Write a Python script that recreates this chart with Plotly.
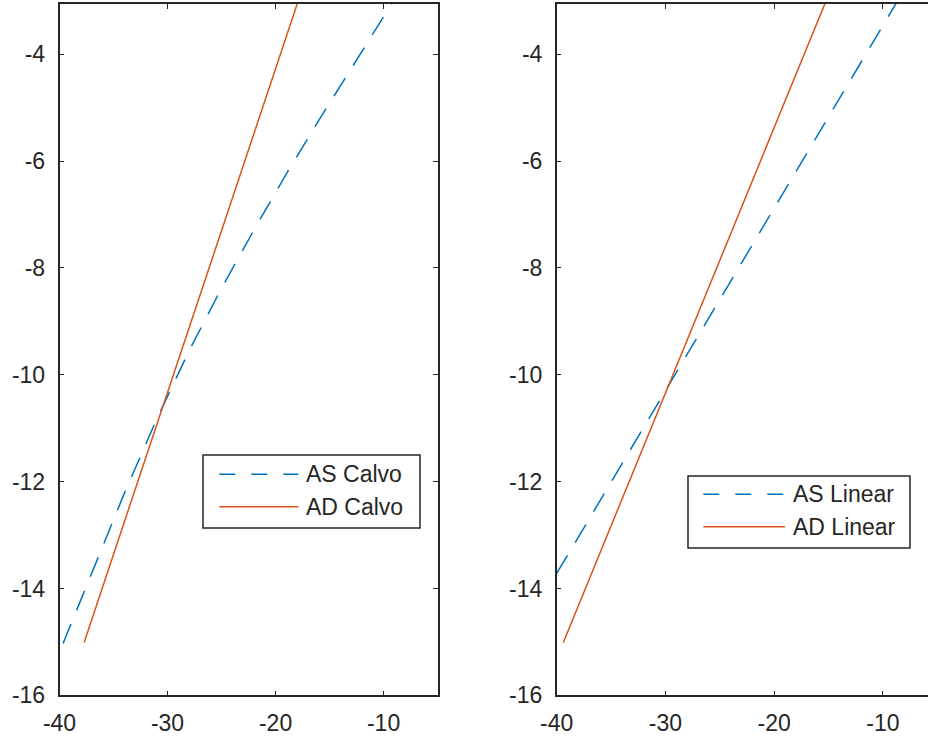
import plotly.graph_objects as go

W, H = 928, 740

# ---- data -------------------------------------------------------------
calvo_names = ["AS Calvo", "AD Calvo"]
calvo_as_x = [-39.67, -37.0, -34.0, -31.0, -28.0, -25.0, -22.0, -19.0, -16.0, -13.0, -9.26]
calvo_as_y = [-15.03, -13.70, -12.22, -10.83, -9.55, -8.38, -7.29, -6.24, -5.24, -4.27, -3.06]
calvo_ad_x = [-37.72, -30.0, -25.0, -18.0]
calvo_ad_y = [-15.01, -10.33, -7.30, -3.06]

linear_names = ["AS Linear", "AD Linear"]
linear_as_x = [-40.0, -30.0, -20.0, -8.8]
linear_as_y = [-13.72, -10.30, -6.88, -3.05]
linear_ad_x = [-39.39, -30.0, -20.0, -15.35]
linear_ad_y = [-15.01, -10.34, -5.37, -3.06]

x_ticks = [-40, -30, -20, -10]
x_tick_labels = ["-40", "-30", "-20", "-10"]
y_ticks = [-16, -14, -12, -10, -8, -6, -4]
y_tick_labels = ["-16", "-14", "-12", "-10", "-8", "-6", "-4"]

# ---- style ------------------------------------------------------------
BLUE = "#0072BD"
ORANGE = "#D95319"
AXIS = "#262626"
FONT = dict(family="Liberation Sans, Arial, sans-serif", size=23, color=AXIS)
DASH = "21px,15px"
LW = 1.5


def px(x):
    return x / W


def py(y):
    return 1 - y / H


fig = go.Figure()

fig.add_trace(go.Scatter(x=calvo_as_x, y=calvo_as_y, mode="lines", name=calvo_names[0],
                         line=dict(color=BLUE, width=LW, dash=DASH), xaxis="x", yaxis="y"))
fig.add_trace(go.Scatter(x=calvo_ad_x, y=calvo_ad_y, mode="lines", name=calvo_names[1],
                         line=dict(color=ORANGE, width=LW), xaxis="x", yaxis="y"))
fig.add_trace(go.Scatter(x=linear_as_x, y=linear_as_y, mode="lines", name=linear_names[0],
                         line=dict(color=BLUE, width=LW, dash=DASH), xaxis="x2", yaxis="y2"))
fig.add_trace(go.Scatter(x=linear_ad_x, y=linear_ad_y, mode="lines", name=linear_names[1],
                         line=dict(color=ORANGE, width=LW), xaxis="x2", yaxis="y2"))

common_axis = dict(showgrid=False, zeroline=False, showline=True, linecolor=AXIS,
                   linewidth=LW, ticks="inside", ticklen=5, tickwidth=1.2,
                   tickcolor=AXIS, tickfont=FONT, automargin=False)

y_dom = [py(695.3), py(4)]

fig.update_layout(
    width=W, height=H,
    margin=dict(l=0, r=0, t=0, b=0),
    paper_bgcolor="white", plot_bgcolor="white",
    showlegend=False,
    xaxis=dict(domain=[px(59.5), px(437.6)], range=[-40, -5], tickvals=x_ticks,
               ticktext=x_tick_labels, anchor="y", mirror="ticks",
               ticklabelstandoff=6, **common_axis),
    yaxis=dict(domain=y_dom, range=[-16, -3.06], tickvals=y_ticks,
               ticktext=y_tick_labels, anchor="x", mirror="ticks",
               ticklabelstandoff=8, **common_axis),
    xaxis2=dict(domain=[px(556.7), 1.0], range=[-40, -5.86], tickvals=x_ticks,
                ticktext=x_tick_labels, anchor="y2", mirror="ticks",
                ticklabelstandoff=6, **common_axis),
    yaxis2=dict(domain=y_dom, range=[-16, -3.06], tickvals=y_ticks,
                ticktext=y_tick_labels, anchor="x2", mirror=False,
                ticklabelstandoff=8, **common_axis),
)

# ---- legend boxes drawn as shapes + text -------------------------------
shapes = []
annotations = []


def legend(box, x0, x1, xt, rows, names):
    bx0, by0, bx1, by1 = box
    shapes.append(dict(type="rect", xref="paper", yref="paper",
                       x0=px(bx0), x1=px(bx1), y0=py(by1), y1=py(by0),
                       line=dict(color=AXIS, width=LW), fillcolor="white", layer="above"))
    styles = [dict(color=BLUE, width=LW, dash="16px,16px"), dict(color=ORANGE, width=LW)]
    for yy, name, st in zip(rows, names, styles):
        shapes.append(dict(type="line", xref="paper", yref="paper",
                           x0=px(x0), x1=px(x1), y0=py(yy), y1=py(yy),
                           line=st, layer="above"))
        annotations.append(dict(xref="paper", yref="paper", x=px(xt), y=py(yy),
                                xanchor="left", yanchor="middle", showarrow=False,
                                text=name, font=FONT))


legend((203, 455, 420, 528), 219.3, 298.3, 304, (474.3, 506.7), calvo_names)
legend((688, 476, 910, 548), 703.3, 785, 791, (494.3, 526.7), linear_names)

fig.update_layout(shapes=shapes, annotations=annotations)

fig.write_html("out.html")
